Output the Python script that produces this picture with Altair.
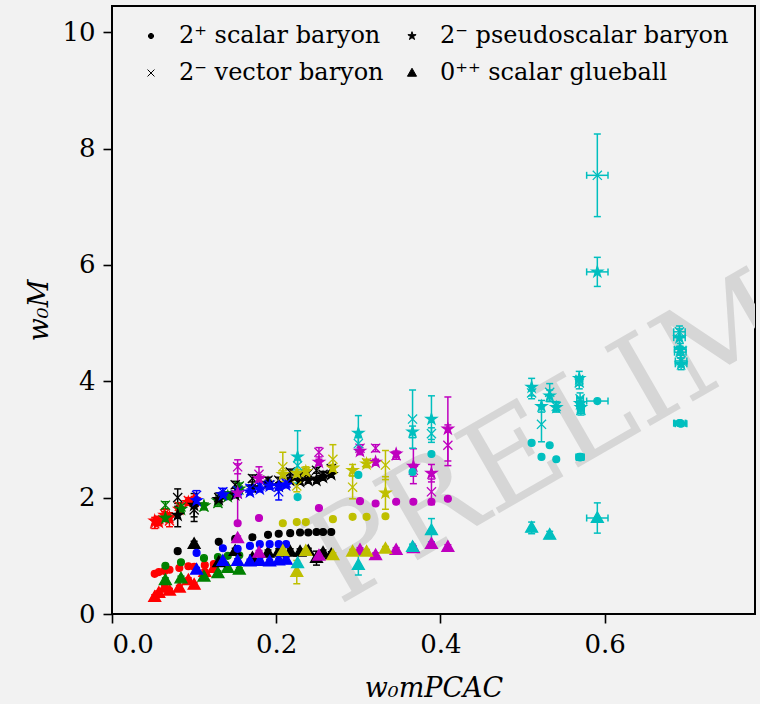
import altair as alt
import pandas as pd

# ---------------- data ----------------
OBS = ["2⁺ scalar baryon", "2⁻ vector baryon", "2⁻ pseudoscalar baryon", "0⁺⁺ scalar glueball"]

red_x = [0.052, 0.057, 0.064, 0.070, 0.082, 0.093, 0.100, 0.113, 0.124]
red_sc = [0.69, 0.72, 0.74, 0.76, 0.79, 0.82, 0.81, 0.84, 0.86]
red_ps = [1.60, 1.58, 1.70, 1.66, 1.80, 1.92, 1.97, None, None]
red_ve = [1.55, 1.62, 1.72, 1.60, 1.85, 1.95, 1.92, None, None]
red_gl = [0.29, 0.36, 0.45, 0.40, 0.45, 0.58, 0.50, 0.72, 0.79]
red_ps_e = [0.06, 0.06, 0.06, 0.08, 0.06, 0.05, 0.05, 0, 0]
red_ve_e = [0.08, 0.06, 0.08, 0.10, 0.06, 0.05, 0.05, 0, 0]

green_x = [0.065, 0.084, 0.112, 0.129, 0.141, 0.155]
green_sc = [0.83, 0.89, 0.96, 0.98, 1.00, 1.01]
green_ps = [1.65, 1.80, 1.86, 1.95, 2.02, 2.15]
green_ve = [1.87, 1.84, 1.84, 1.90, 2.05, 2.20]
green_gl = [0.58, 0.61, 0.64, 0.70, 0.79, 0.76]
green_ps_e = [0.06, 0.05, 0.05, 0.05, 0.05, 0.05]
green_ve_e = [0.06, 0.05, 0.05, 0.05, 0.05, 0.05]

black_x = [0.080, 0.100, 0.130, 0.150, 0.171, 0.190, 0.203, 0.217, 0.229, 0.239, 0.249, 0.257, 0.267]
black_sc = [1.08, None, 1.24, 1.29, 1.32, 1.36, 1.38, 1.39, 1.40, 1.40, 1.41, 1.41, 1.41]
black_ps = [1.70, 1.87, 1.97, 2.05, 2.17, 2.25, 2.20, 2.30, 2.28, 2.30, 2.30, 2.35, 2.40]
black_ve = [2.00, 1.79, 2.00, 2.22, 2.33, 2.30, 2.30, 2.44, 2.38, 2.42, 2.47, 2.40, 2.50]
black_gl = [None, 1.20, 0.89, 1.08, 0.96, 1.05, 1.07, 1.07, 1.07, 1.08, 0.96, 1.05, 1.02]
black_ps_e = [0.20, 0.20, 0.06, 0.05, 0.05, 0.05, 0.05, 0.05, 0.05, 0.05, 0.05, 0.05, 0.05]
black_ve_e = [0.15, 0.20, 0.08, 0.06, 0.06, 0.05, 0.05, 0.05, 0.05, 0.05, 0.05, 0.05, 0.05]
black_gl_e = [0, 0.05, 0.05, 0.05, 0.05, 0.05, 0.05, 0.05, 0.05, 0.05, 0.12, 0.05, 0.05]

blue_x = [0.103, 0.135, 0.153, 0.168, 0.180, 0.192, 0.203, 0.212]
blue_sc = [1.05, 1.13, 1.12, 1.17, 1.20, 1.20, 1.20, 1.20]
blue_ps = [1.95, 2.05, 2.08, 2.10, 2.15, 2.20, 2.20, 2.22]
blue_ve = [2.04, 2.10, 2.12, 2.16, 2.20, 2.22, 2.10, 2.25]
blue_gl = [0.76, 0.91, 0.91, 0.90, 0.91, 0.90, 0.92, 0.93]
blue_ve_e = [0.08, 0.06, 0.06, 0.06, 0.05, 0.05, 0.14, 0.05]

mag_x = [0.153, 0.179, 0.252, 0.302, 0.321, 0.346, 0.367, 0.389, 0.409]
mag_sc = [1.56, 1.65, 1.82, 1.94, 1.90, 1.93, 1.93, 1.93, 1.98]
mag_ps = [2.08, 2.33, 2.61, 2.80, 2.61, 2.75, 2.54, 2.42, 3.18]
mag_ve = [2.53, 2.40, 2.78, 2.85, 2.85, 2.72, 2.47, 2.10, 2.90]
mag_gl = [1.30, 1.05, 1.00, 1.10, 1.01, 1.10, 1.13, 1.20, 1.15]
mag_ps_e = [0.50, 0.06, 0.05, 0.06, 0.05, 0.05, 0.30, 0.15, 0.55]
mag_ve_e = [0.12, 0.13, 0.08, 0.06, 0.06, 0.06, 0.10, 0.22, 0.35]

yel_x = [0.208, 0.225, 0.236, 0.269, 0.293, 0.310, 0.333]
yel_sc = [1.56, 1.58, 1.58, 1.63, 1.67, 1.67, 1.68]
yel_ps = [2.40, 2.42, 2.45, 2.51, 2.47, 2.58, 2.08]
yel_ve = [2.53, 2.20, 2.45, 2.66, 2.18, 2.60, 2.56]
yel_gl = [1.08, 0.72, 1.08, 1.01, 1.07, 1.07, 1.12]
yel_ps_e = [0.06, 0.06, 0.06, 0.06, 0.10, 0.06, 0.28]
yel_ve_e = [0.25, 0.10, 0.08, 0.25, 0.20, 0.06, 0.25]
yel_gl_e = [0.04, 0.20, 0.04, 0.04, 0.04, 0.04, 0.04]

cyan_x = [0.226, 0.300, 0.366, 0.389, 0.511, 0.523, 0.533, 0.541, 0.569, 0.570, 0.571, 0.591, 0.691, 0.692, 0.693]
cyan_xe = [0, 0, 0, 0, 0, 0, 0, 0, 0.004, 0.004, 0.004, 0.013, 0.007, 0.007, 0.007]
cyan_sc = [2.01, 2.39, 2.44, 2.75, 2.94, 2.70, 2.90, 2.66, 2.70, 2.69, 2.70, 3.66, 3.28, 3.28, 3.27]
cyan_ps = [2.70, 3.11, 3.13, 3.35, 3.90, 3.57, 3.75, 3.55, 4.05, 3.62, 3.55, 5.88, 4.75, 4.55, 4.30]
cyan_ve = [2.55, 2.93, 3.35, 3.10, 3.80, 3.26, 3.81, 3.57, 3.97, 3.70, 3.50, 7.54, 4.85, 4.50, 4.35]
cyan_gl = [0.87, 0.84, 1.15, 1.44, 1.48, None, 1.36, None, None, None, None, 1.65, None, None, None]
cyan_ps_e = [0.45, 0.30, 0.10, 0.40, 0.15, 0.10, 0.10, 0.08, 0.12, 0.10, 0.10, 0.25, 0.15, 0.10, 0.10]
cyan_ve_e = [0.10, 0.10, 0.50, 0.10, 0.10, 0.30, 0.15, 0.08, 0.10, 0.10, 0.08, 0.71, 0.10, 0.10, 0.10]
cyan_gl_e = [0.17, 0.17, 0.05, 0.20, 0.10, 0, 0.06, 0, 0, 0, 0, 0.26, 0, 0, 0]

watermark_text = ["PRELIMINARY"]
watermark_x = [0.276]
watermark_y = [0.14]

# ---------------- assemble long table ----------------
def z(n):
    return [0.0] * n

SC, VE, PS, GL = OBS
groups = [
    ("#ff0000", red_x, z(len(red_x)), red_sc, z(len(red_x)), red_ps, red_ps_e, red_ve, red_ve_e, red_gl, [0.04] * len(red_x)),
    ("#008000", green_x, z(len(green_x)), green_sc, z(len(green_x)), green_ps, green_ps_e, green_ve, green_ve_e, green_gl, [0.04] * len(green_x)),
    ("#000000", black_x, z(len(black_x)), black_sc, z(len(black_x)), black_ps, black_ps_e, black_ve, black_ve_e, black_gl, black_gl_e),
    ("#0000ff", blue_x, z(len(blue_x)), blue_sc, z(len(blue_x)), blue_ps, [0.05] * len(blue_x), blue_ve, blue_ve_e, blue_gl, [0.04] * len(blue_x)),
    ("#bf00bf", mag_x, z(len(mag_x)), mag_sc, z(len(mag_x)), mag_ps, mag_ps_e, mag_ve, mag_ve_e, mag_gl, [0.04] * len(mag_x)),
    ("#bfbf00", yel_x, z(len(yel_x)), yel_sc, z(len(yel_x)), yel_ps, yel_ps_e, yel_ve, yel_ve_e, yel_gl, yel_gl_e),
    ("#00bfbf", cyan_x, cyan_xe, cyan_sc, z(len(cyan_x)), cyan_ps, cyan_ps_e, cyan_ve, cyan_ve_e, cyan_gl, cyan_gl_e),
]

rows = []
for col, xs, xes, sc, sce, ps, pse, ve, vee, gl, gle in groups:
    for i, x in enumerate(xs):
        for lab, ms, es in [(SC, sc, sce), (PS, ps, pse), (VE, ve, vee), (GL, gl, gle)]:
            if ms[i] is not None:
                rows.append({"col": col, "x": x, "xe": xes[i], "obs": lab, "m": ms[i], "me": es[i]})
df = pd.DataFrame(rows)
wm = pd.DataFrame({"x": watermark_x, "y": watermark_y, "t": watermark_text})

FONT = "DejaVu Serif"
xs_ = alt.Scale(domain=[0, 0.783], nice=False, zero=False)
ys_ = alt.Scale(domain=[0, 10.45], nice=False, zero=False)

DOT = "M0.6,0A0.6,0.6 0 1,1 -0.6,0A0.6,0.6 0 1,1 0.6,0Z"
STAR = "M0,-1L0.225,-0.309L0.951,-0.309L0.363,0.118L0.588,0.809L0,0.382L-0.588,0.809L-0.363,0.118L-0.951,-0.309L-0.225,-0.309Z"
CROSS = "M-0.8,-0.8L0.8,0.8M-0.8,0.8L0.8,-0.8"
TRI = "M0,-1.1L1.05,0.75L-1.05,0.75Z"

axis_common = dict(labelFont=FONT, labelFontSize=26, labelColor="black",
                   titleFont=FONT, titleFontSize=27, titleColor="black",
                   titleFontWeight="normal", titleFontStyle="italic")

X = alt.X("x:Q", scale=xs_, title="w₀mPCAC",
          axis=alt.Axis(values=[0, 0.2, 0.4, 0.6], format=".1f", titlePadding=18, **axis_common))
Y = alt.Y("m:Q", scale=ys_, title="w₀M",
          axis=alt.Axis(values=[0, 2, 4, 6, 8, 10], format="d", titlePadding=8, **axis_common))

watermark = alt.Chart(wm).mark_text(
    angle=330, align="left", baseline="alphabetic", fontSize=125, font="DejaVu Serif",
    color="#d6d6d6", clip=True
).encode(x=alt.X("x:Q", scale=xs_), y=alt.Y("y:Q", scale=ys_), text="t:N")

base = alt.Chart(df)

yerr = base.transform_filter("datum.me > 0").transform_calculate(
    lo="datum.m - datum.me", hi="datum.m + datum.me"
).mark_rule(strokeWidth=1.5).encode(
    x=X, y=alt.Y("lo:Q", scale=ys_), y2="hi:Q", color=alt.Color("col:N", scale=None)
)
ycaps = base.transform_filter("datum.me > 0").transform_calculate(
    lo="datum.m - datum.me", hi="datum.m + datum.me"
).transform_fold(["lo", "hi"], as_=["k", "v"]).mark_tick(
    orient="horizontal", size=7, thickness=1.5, opacity=1
).encode(x=X, y=alt.Y("v:Q", scale=ys_), color=alt.Color("col:N", scale=None))

xerr = base.transform_filter("datum.xe > 0").transform_calculate(
    xlo="datum.x - datum.xe", xhi="datum.x + datum.xe"
).mark_rule(strokeWidth=1.5).encode(
    x=alt.X("xlo:Q", scale=xs_), x2="xhi:Q", y=Y, color=alt.Color("col:N", scale=None)
)
xcaps = base.transform_filter("datum.xe > 0").transform_calculate(
    xlo="datum.x - datum.xe", xhi="datum.x + datum.xe"
).transform_fold(["xlo", "xhi"], as_=["k", "v"]).mark_tick(
    orient="vertical", size=7, thickness=1.5, opacity=1
).encode(x=alt.X("v:Q", scale=xs_), y=Y, color=alt.Color("col:N", scale=None))

points = base.mark_point(filled=True, opacity=1, strokeWidth=1.3, size=130).encode(
    x=X, y=Y,
    shape=alt.Shape("obs:N", scale=alt.Scale(domain=OBS, range=[DOT, CROSS, STAR, TRI]),
                    legend=alt.Legend(title=None, orient="none", legendX=27, legendY=18, columns=2,
                                      padding=0, labelLimit=500,
                                      labelFont=FONT, labelFontSize=24, labelColor="black",
                                      symbolSize=75, symbolFillColor="black", symbolStrokeColor="black",
                                      symbolStrokeWidth=1, rowPadding=13, columnPadding=16,
                                      labelOffset=16)),
    fill=alt.Fill("col:N", scale=None),
    stroke=alt.Stroke("col:N", scale=None),
)

chart = alt.layer(watermark, yerr, ycaps, xerr, xcaps, points).properties(
    width=643, height=608, background="#f2f2f2",
    padding={"left": 112, "top": 6, "right": 5, "bottom": 90},
    autosize=alt.AutoSizeParams(type="none"),
).configure_view(stroke="black", strokeWidth=2, fill="#f2f2f2").configure_axis(
    tickColor="black", tickWidth=1.6, tickSize=9, domain=False, grid=False,
    labelPadding=8,
)

chart.save("out.html", embed_options={"renderer": "svg", "actions": False})
